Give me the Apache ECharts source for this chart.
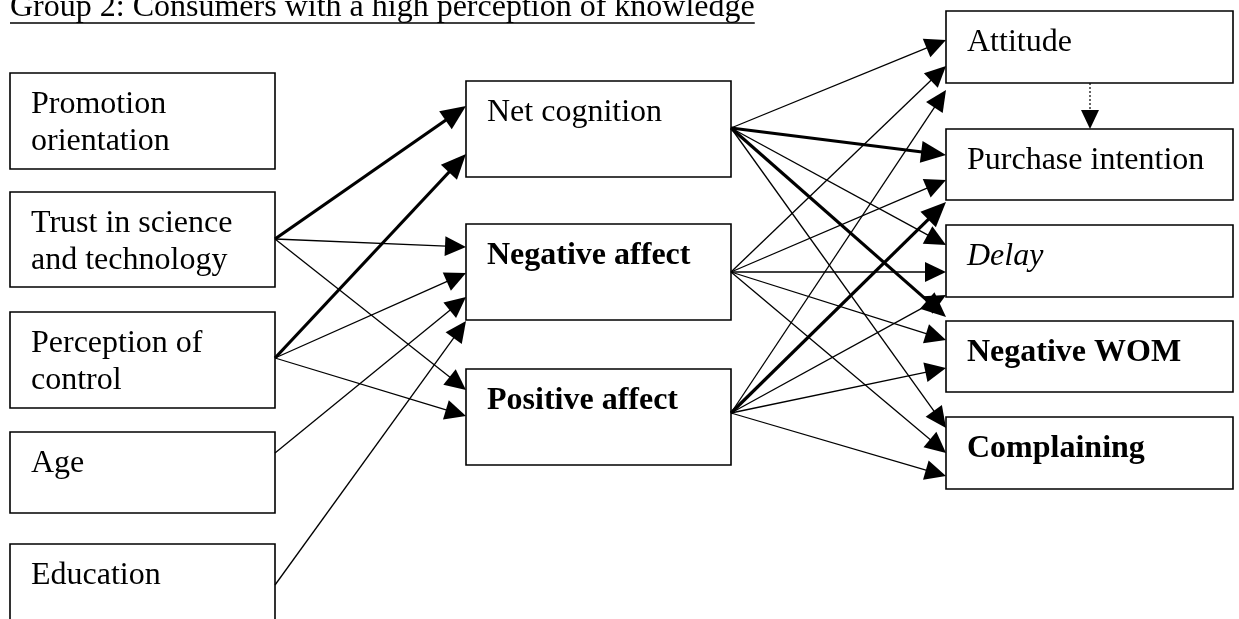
<!DOCTYPE html>
<html><head><meta charset="utf-8">
<script src="https://cdn.jsdelivr.net/npm/echarts@6/dist/echarts.min.js"></script>
<style>html,body{margin:0;padding:0;background:#fff}#c{width:1239px;height:619px}</style>
</head><body><div id="c"></div>
<script>
// ---- content ----
const titleText = 'Group 2: Consumers with a high perception of knowledge';
const nodeLines = [
  ['Promotion', 'orientation'],
  ['Trust in science', 'and technology'],
  ['Perception of', 'control'],
  ['Age'],
  ['Education'],
  ['Net cognition'],
  ['Negative affect'],
  ['Positive affect'],
  ['Attitude'],
  ['Purchase intention'],
  ['Delay'],
  ['Negative WOM'],
  ['Complaining']
];
const nodeWeight = ['normal','normal','normal','normal','normal','normal','bold','bold','normal','normal','normal','bold','bold'];
const nodeItalic = [false,false,false,false,false,false,false,false,false,false,true,false,false];

// ---- layout (diagram units) ----
const boxX0 = [10, 10, 10, 10, 10, 466, 466, 466, 946, 946, 946, 946, 946];
const boxX1 = [275, 275, 275, 275, 275, 731, 731, 731, 1233, 1233, 1233, 1233, 1233];
const boxY0 = [73, 192, 312, 432, 544, 81, 224, 369, 11, 129, 225, 321, 417];
const boxY1 = [169, 287, 408, 513, 660, 177, 320, 465, 83, 200, 297, 392, 489];

// ---- paths ----
const edgeFrom  = [1, 1, 1, 2, 2, 2, 3, 4,   5, 5, 5, 5, 5,   6, 6, 6, 6, 6,   7, 7, 7, 7, 7];
const edgeTo    = [5, 6, 7, 5, 6, 7, 6, 6,   8, 9,10,11,12,   8, 9,10,11,12,   8, 9,10,11,12];
const edgeThick = [1, 0, 0, 1, 0, 0, 0, 0,   0, 1, 0, 1, 0,   0, 0, 0, 0, 0,   0, 1, 0, 0, 0];
const edgeFromY = [239,239,239,358,358,358,453,585, 128,128,128,128,128, 272,272,272,272,272, 413,413,413,413,413];
const edgeToY   = [106,247,390,154,273,416,297,321, 40,155,245,317,428, 66,180,272,340,453, 90,202,295,368,476];
// dotted path Attitude -> Purchase intention
const dottedFrom = [8];
const dottedTo = [9];
const dottedX = [1090];

const FONT = '"Liberation Serif", "Times New Roman", serif';
const FS = 32, LH = 37;

const boxData = nodeLines.map((_, i) => [boxX0[i], boxY0[i], boxX1[i], boxY1[i], i]);
const edgeData = edgeFrom.map((f, i) => [boxX1[f], edgeFromY[i], boxX0[edgeTo[i]], edgeToY[i], i]);
const dottedData = dottedFrom.map((f, i) => [dottedX[i], boxY1[f], dottedX[i], boxY0[dottedTo[i]], i]);

function arrow(p0, p1, lw, L, W, dash) {
  const dx = p1[0] - p0[0], dy = p1[1] - p0[1];
  const len = Math.sqrt(dx * dx + dy * dy);
  const ux = dx / len, uy = dy / len;
  const bx = p1[0] - ux * L, by = p1[1] - uy * L;
  const px = -uy, py = ux;
  return {
    type: 'group',
    children: [
      { type: 'line', shape: { x1: p0[0], y1: p0[1], x2: bx + ux, y2: by + uy },
        style: { stroke: '#000', lineWidth: lw, lineDash: dash || null } },
      { type: 'polygon', shape: { points: [[p1[0], p1[1]], [bx + px * W, by + py * W], [bx - px * W, by - py * W]] },
        style: { fill: '#000' } }
    ]
  };
}

const chart = echarts.init(document.getElementById('c'), null, { renderer: 'canvas' });

const mc = document.createElement('canvas').getContext('2d');
mc.font = FS + 'px ' + FONT;
const titleW = mc.measureText(titleText).width;

chart.setOption({
  animation: false,
  backgroundColor: '#fff',
  grid: { left: 0, right: 0, top: 0, bottom: 0 },
  xAxis: { type: 'value', min: 0, max: 1239, show: false },
  yAxis: { type: 'value', min: 0, max: 619, inverse: true, show: false },
  graphic: [
    { type: 'text', x: 10, y: 8,
      style: { text: titleText, x: 0, y: 0, font: FS + 'px ' + FONT, fill: '#000', verticalAlign: 'middle', align: 'left' } },
    { type: 'line', shape: { x1: 10, y1: 23, x2: 10 + titleW, y2: 23 }, style: { stroke: '#000', lineWidth: 1.6 } }
  ],
  series: [
    {
      type: 'custom', coordinateSystem: 'cartesian2d', clip: false,
      encode: { x: [0, 2], y: [1, 3] },
      data: edgeData,
      renderItem: function (params, api) {
        const i = api.value(4);
        const p0 = api.coord([api.value(0), api.value(1)]);
        const p1 = api.coord([api.value(2), api.value(3)]);
        return edgeThick[i] ? arrow(p0, p1, 3.2, 25, 11) : arrow(p0, p1, 1.3, 21, 10);
      }
    },
    {
      type: 'custom', coordinateSystem: 'cartesian2d', clip: false,
      encode: { x: [0, 2], y: [1, 3] },
      data: dottedData,
      renderItem: function (params, api) {
        const p0 = api.coord([api.value(0), api.value(1)]);
        const p1 = api.coord([api.value(2), api.value(3)]);
        return arrow(p0, p1, 1.2, 19, 9, [2, 2]);
      }
    },
    {
      type: 'custom', coordinateSystem: 'cartesian2d', clip: false,
      encode: { x: [0, 2], y: [1, 3] },
      data: boxData,
      renderItem: function (params, api) {
        const i = api.value(4);
        const a = api.coord([api.value(0), api.value(1)]);
        const b = api.coord([api.value(2), api.value(3)]);
        const children = [{
          type: 'rect', shape: { x: a[0], y: a[1], width: b[0] - a[0], height: b[1] - a[1] },
          style: { fill: 'none', stroke: '#000', lineWidth: 1.6 }
        }];
        const font = (nodeItalic[i] ? 'italic ' : '') + nodeWeight[i] + ' ' + FS + 'px ' + FONT;
        nodeLines[i].forEach(function (t, k) {
          children.push({
            type: 'text', x: a[0] + 21, y: a[1] + 32 + k * LH,
            style: { text: t, x: 0, y: 0, font: font, fill: '#000', verticalAlign: 'middle', align: 'left' }
          });
        });
        return { type: 'group', children: children };
      }
    }
  ]
});
</script>
</body></html>
